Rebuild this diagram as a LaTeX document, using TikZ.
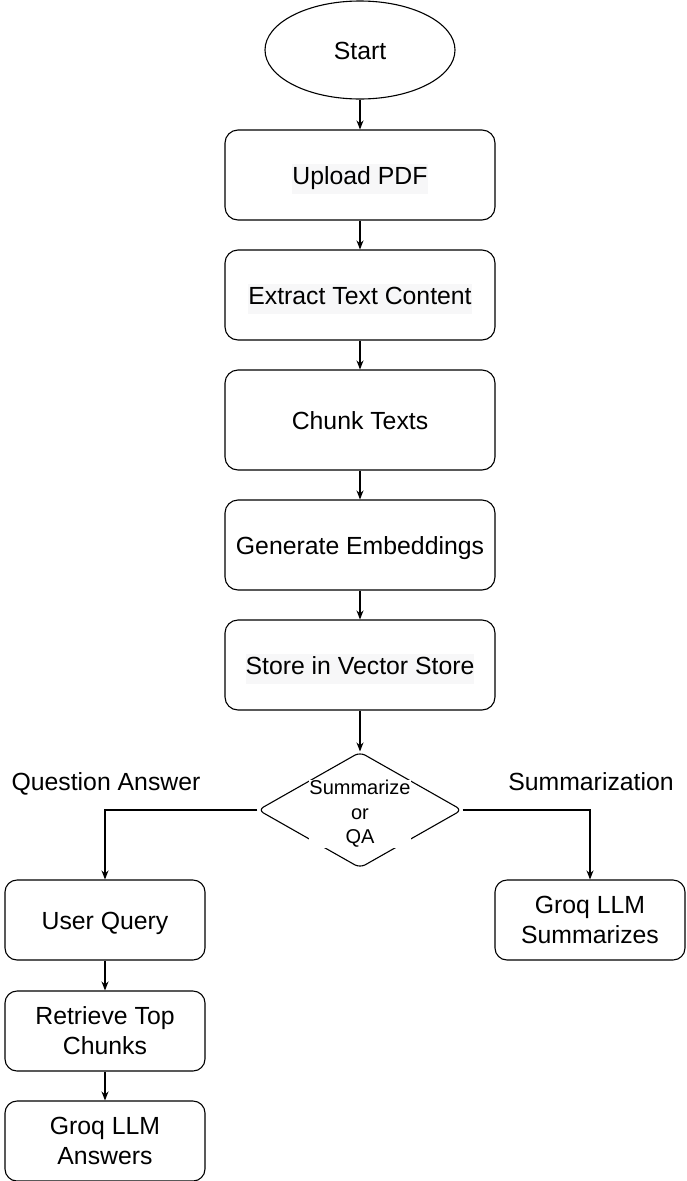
\documentclass[tikz,border=0pt]{standalone}
\usepackage{fontspec}
\setmainfont{Liberation Sans}
\usepackage{xcolor}
\usepackage{tikz}
\usetikzlibrary{shapes.geometric}
\usetikzlibrary{arrows.meta}
\definecolor{hlgray}{RGB}{247,247,248}
\newcommand{\hl}[1]{{\setlength{\fboxsep}{0pt}\colorbox{hlgray}{\strut #1}}}
\tikzstyle{box}=[draw=black,line width=1.1pt,rounded corners=13pt,align=center,inner sep=0pt,font=\fontsize{24.8}{30}\selectfont]
\tikzstyle{oneline}=[text height=24pt,text depth=5pt]
\tikzstyle{arr}=[line width=1.1pt,-{Stealth[length=9pt,width=7pt]}]

\begin{document}
\begin{tikzpicture}[x=1pt,y=-1pt]
      \useasboundingbox (0,0) rectangle (686,1181);
      \node[box,oneline,ellipse,minimum width=190pt,minimum height=98pt] (start) at (360,50) {Start};
      \foreach \n/\y/\h/\t in {upload/175/90/\hl{Upload PDF},
                              extract/295/90/\hl{Extract Text Content},
                              chunk/420/100/Chunk Texts,
                              embed/545/90/Generate Embeddings,
                              store/665/90/\hl{Store in Vector Store}}{
        \node[box,oneline,minimum width=270pt,minimum height=\h pt] (\n) at (360,\y) {\t};
      }
      
      \node[draw=black,line width=1.1pt,diamond,rounded corners=6pt,inner sep=0pt,
            minimum width=204pt,minimum height=116pt] (dec) at (360,810) {};
      \node[fill=white,inner sep=0pt,align=center,yshift=-4pt,font=\fontsize{20}{24.5}\selectfont] at (dec) {Summarize\\or\\QA};
      
      \node[box,oneline,rounded corners=12pt,minimum width=200pt,minimum height=80pt] (query) at (105,920) {User Query};
      \node[box,rounded corners=12pt,minimum width=200pt,minimum height=80pt] (retr) at (105,1031) {Retrieve Top\\Chunks};
      \node[box,rounded corners=12pt,minimum width=200pt,minimum height=80pt] (ans) at (105,1141) {Groq LLM\\Answers};
      \node[box,rounded corners=12pt,minimum width=190pt,minimum height=80pt] (summ) at (590,920) {Groq LLM\\Summarizes};
      
      \node[oneline,font=\fontsize{24.8}{30}\selectfont] (qalab) at (106,781) {Question Answer};
      \node[oneline,font=\fontsize{24.8}{30}\selectfont] (sumlab) at (591,781) {Summarization};
      
      \foreach \a/\b in {start/upload,upload/extract,extract/chunk,chunk/embed,embed/store,store/dec,query/retr,retr/ans}{
        \draw[arr] (\a) -- (\b);
      }
      \draw[arr] (dec.west) -| (query.north);
      \draw[arr] (dec.east) -| (summ.north);
    \end{tikzpicture}
\end{document}
